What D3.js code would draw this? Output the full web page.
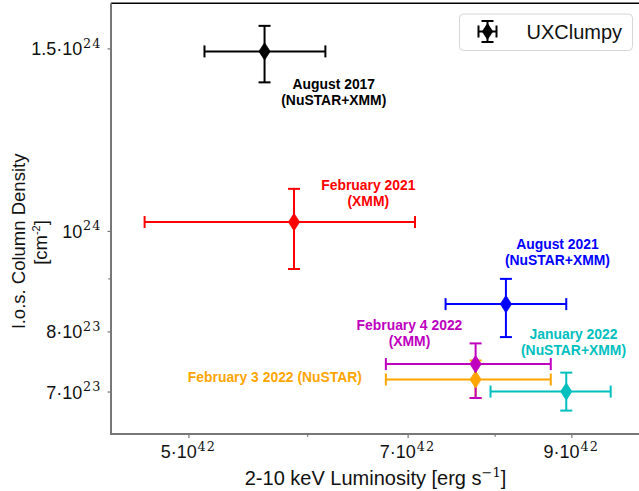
<!DOCTYPE html>
<html><head><meta charset="utf-8">
<script src="https://cdn.jsdelivr.net/npm/d3@7"></script>
<style>body{margin:0;background:#fff}svg{display:block}</style>
</head><body><svg id="c" width="639" height="491"></svg>
<script>
// ---- data ----
const noteLines = [["August 2017","(NuSTAR+XMM)"],["February 2021","(XMM)"],["August 2021","(NuSTAR+XMM)"],["January 2022","(NuSTAR+XMM)"],["February 3 2022 (NuSTAR)"],["February 4 2022","(XMM)"]];
const colors = ["#000000","#ff0000","#0000ff","#00bfbf","#ffa500","#bf00bf"];
const lum   = [5.62e42, 5.88e42, 8.14e42, 8.93e42, 7.77e42, 7.77e42];
const lumLo = [5.125e42, 4.675e42, 7.42e42, 7.95e42, 6.77e42, 6.77e42];
const lumHi = [6.17e42, 7.08e42, 8.93e42, 9.56e42, 8.72e42, 8.72e42];
const nh    = [1.49e24, 1.02e24, 8.50e23, 7.00e23, 7.19e23, 7.44e23];
const nhLo  = [1.391e24, 9.19e23, 7.90e23, 6.71e23, 6.90e23, 6.90e23];
const nhHi  = [1.577e24, 1.098e24, 8.99e23, 7.30e23, 7.50e23, 7.79e23];
const noteLum = [6.25e42, 6.59e42, 8.81e42, 9.03e42, 5.71e42, 7.02e42];
const noteNh  = [1.372e24, 1.096e24, 9.60e23, 7.87e23, 7.15e23, 8.03e23];
const xTicks = [5e42, 7e42, 9e42];
const xTickLabels = [["5·10","42"],["7·10","42"],["9·10","42"]];
const xMinor = [6e42, 8e42];
const yTicks = [1.5e24, 1e24, 8e23, 7e23];
const yTickLabels = [["1.5·10","24"],["10","24"],["8·10","23"],["7·10","23"]];
const yMinor = [9e23];
const xDomain = [4.44e42, 1e43];
const yDomain = [6.37e23, 1.658e24];
const legendLabel = "UXClumpy";

// ---- layout ----
const L = 111, R = 640, T = 3.3, B = 434;
const svg = d3.select("#c");
const x = d3.scaleLog().domain(xDomain).range([L, R]);
const y = d3.scaleLog().domain(yDomain).range([B, T]);
const SANS = "Liberation Sans, Arial, Helvetica, sans-serif";
const SERIF = "DejaVu Serif, serif";
const axisGray = "#777";

// axes
const gx = svg.append("g").attr("transform", `translate(0,${B})`)
  .call(d3.axisBottom(x).tickValues(xTicks).tickSize(4).tickFormat(() => ""));
const gxm = svg.append("g").attr("transform", `translate(0,${B})`)
  .call(d3.axisBottom(x).tickValues(xMinor).tickSize(2.7).tickFormat(() => ""));
const gy = svg.append("g").attr("transform", `translate(${L},0)`)
  .call(d3.axisLeft(y).tickValues(yTicks).tickSize(3.5).tickFormat(() => ""));
const gym = svg.append("g").attr("transform", `translate(${L},0)`)
  .call(d3.axisLeft(y).tickValues(yMinor).tickSize(2.7).tickFormat(() => ""));
[gx, gxm, gy, gym].forEach(g => {
  g.select(".domain").remove();
  g.selectAll(".tick line").attr("stroke", axisGray).attr("stroke-width", 1.2);
});

// spines
svg.append("line").attr("x1", L).attr("x2", R).attr("y1", T).attr("y2", T).attr("stroke", "#000").attr("stroke-width", 1.6);
svg.append("line").attr("x1", R).attr("x2", R).attr("y1", T).attr("y2", B).attr("stroke", "#000").attr("stroke-width", 1.6);
svg.append("line").attr("x1", L).attr("x2", R).attr("y1", B).attr("y2", B).attr("stroke", axisGray).attr("stroke-width", 2);
svg.append("line").attr("x1", L).attr("x2", L).attr("y1", T).attr("y2", B + 1).attr("stroke", axisGray).attr("stroke-width", 2);

// tick labels
function supLabel(g, parts, fs, sfs, rise) {
  g.append("tspan").attr("font-family", SANS).attr("font-size", fs).text(parts[0]);
  g.append("tspan").attr("font-family", SERIF).attr("font-size", sfs).attr("dy", -rise).attr("dx", 0.8).attr("letter-spacing", 1.2).text(parts[1]);
}
xTicks.forEach((v, i) => {
  const t = svg.append("text").attr("x", x(v)).attr("y", B + 24.3).attr("text-anchor", "middle").attr("fill", "#111");
  supLabel(t, xTickLabels[i], 18, 12.8, 7.5);
});
yTicks.forEach((v, i) => {
  const t = svg.append("text").attr("x", L - 9.3).attr("y", y(v) + 7).attr("text-anchor", "end").attr("fill", "#111");
  supLabel(t, yTickLabels[i], 18, 12.8, 7.5);
});

// axis labels
const xl = svg.append("text").attr("x", (L + R) / 2).attr("y", 485).attr("text-anchor", "middle")
  .attr("font-family", SANS).attr("font-size", 20).attr("fill", "#111");
xl.append("tspan").text("2-10 keV Luminosity [erg s");
xl.append("tspan").attr("font-family", SERIF).attr("font-size", 13).attr("dy", -8).text("−1");
xl.append("tspan").attr("dy", 8).text("]");

svg.append("text").attr("transform", "translate(25,241) rotate(-90)").attr("text-anchor", "middle")
  .attr("font-family", SANS).attr("font-size", 18.5).attr("fill", "#111").text("l.o.s. Column Density");
const yl2 = svg.append("text").attr("transform", "translate(46.5,242.5) rotate(-90)").attr("text-anchor", "middle")
  .attr("font-family", SANS).attr("font-size", 18.5).attr("fill", "#111");
yl2.append("tspan").text("[cm");
yl2.append("tspan").attr("font-size", 11).attr("dy", -7).text("-2");
yl2.append("tspan").attr("dy", 7).text("]");

// error bars
const CAP = 6, LW = 2;
const idx = d3.range(lum.length);
const eb = svg.append("g");
idx.forEach(i => {
  const g = eb.append("g").attr("stroke", colors[i]).attr("stroke-width", LW).attr("fill", "none");
  const cx = x(lum[i]), cy = y(nh[i]);
  const x0 = x(lumLo[i]), x1 = x(lumHi[i]), y0 = y(nhLo[i]), y1 = y(nhHi[i]);
  g.append("line").attr("x1", x0).attr("x2", x1).attr("y1", cy).attr("y2", cy);
  g.append("line").attr("x1", cx).attr("x2", cx).attr("y1", y0).attr("y2", y1);
  g.append("line").attr("x1", x0).attr("x2", x0).attr("y1", cy - CAP).attr("y2", cy + CAP);
  g.append("line").attr("x1", x1).attr("x2", x1).attr("y1", cy - CAP).attr("y2", cy + CAP);
  g.append("line").attr("x1", cx - CAP).attr("x2", cx + CAP).attr("y1", y0).attr("y2", y0);
  g.append("line").attr("x1", cx - CAP).attr("x2", cx + CAP).attr("y1", y1).attr("y2", y1);
});
const HW = 5.6, HH = 8.6;
const diamond = (cx, cy) => `M${cx},${cy - HH}L${cx + HW},${cy}L${cx},${cy + HH}L${cx - HW},${cy}Z`;
svg.append("g").selectAll("path").data(idx).join("path")
  .attr("d", i => diamond(x(lum[i]), y(nh[i])))
  .attr("fill", i => colors[i]).attr("stroke", i => colors[i]).attr("stroke-width", 0.8);

// annotations
idx.forEach(i => {
  const t = svg.append("text").attr("text-anchor", "middle").attr("font-family", SANS)
    .attr("font-weight", "bold").attr("font-size", 13.9).attr("fill", colors[i]);
  noteLines[i].forEach((s, k) => {
    t.append("tspan").attr("x", x(noteLum[i])).attr("y", y(noteNh[i]) + k * 16).text(s);
  });
});

// legend
const lg = svg.append("g");
lg.append("rect").attr("x", 459.5).attr("y", 14).attr("width", 173).attr("height", 36.5).attr("rx", 4)
  .attr("fill", "#fff").attr("fill-opacity", 0.8).attr("stroke", "#d6d6d6").attr("stroke-width", 1);
const mx = 487.5, my = 31.5;
const lm = lg.append("g").attr("stroke", "#000").attr("stroke-width", LW);
lm.append("line").attr("x1", mx - 9).attr("x2", mx + 9).attr("y1", my).attr("y2", my);
lm.append("line").attr("x1", mx).attr("x2", mx).attr("y1", my - 10.5).attr("y2", my + 10.5);
lm.append("line").attr("x1", mx - 9).attr("x2", mx - 9).attr("y1", my - 6).attr("y2", my + 6);
lm.append("line").attr("x1", mx + 9).attr("x2", mx + 9).attr("y1", my - 6).attr("y2", my + 6);
lm.append("line").attr("x1", mx - 6).attr("x2", mx + 6).attr("y1", my - 10.5).attr("y2", my - 10.5);
lm.append("line").attr("x1", mx - 6).attr("x2", mx + 6).attr("y1", my + 10.5).attr("y2", my + 10.5);
lg.append("path").attr("d", diamond(mx, my)).attr("fill", "#000");
lg.append("text").attr("x", 526.5).attr("y", 39).attr("font-family", SANS).attr("font-size", 20)
  .attr("fill", "#111").text(legendLabel);
</script></body></html>
